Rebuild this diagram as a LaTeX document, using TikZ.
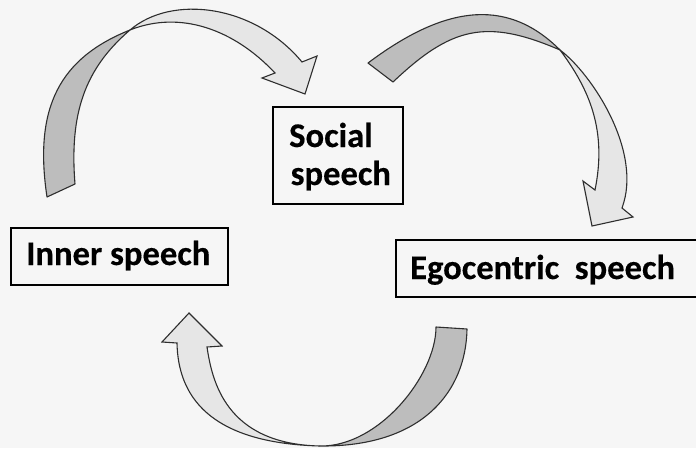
\documentclass[tikz,border=0pt]{standalone}
\usepackage{fontspec}
\setmainfont{Carlito}[BoldFeatures={FakeBold=0.35}]
\definecolor{paper}{HTML}{F6F6F6}
\definecolor{arrowdark}{HTML}{BDBDBD}
\definecolor{arrowlight}{HTML}{E6E6E6}
\definecolor{edge}{HTML}{2E2E2E}
\begin{document}
\begin{tikzpicture}[x=1pt,y=-1pt,
  boxtext/.style={font=\bfseries\fontsize{34.6}{38}\selectfont, text=black, inner sep=0pt, anchor=base west},
  frame/.style={draw=black, line width=1.3pt, inner sep=0pt},
  back/.style={fill=arrowdark, draw=edge, line width=1.1pt, line join=round},
  front/.style={fill=arrowlight, draw=edge, line width=1.1pt, line join=miter}]

\useasboundingbox (0,0) rectangle (696,448);
\fill[paper] (0,0) rectangle (696,448);
\clip (0,0) rectangle (696,448);

% ---- the three stages: frames, then their labels set on baselines ----
\node[frame, minimum width=130pt, minimum height=97pt] (social) at (338,155.5) {};
\node[boxtext] (socialA) at (289,147) {Social};
\node[boxtext] (socialB) at (290.5,185) {speech};

\node[frame, minimum width=217pt, minimum height=57pt] (inner) at (119.5,256.5) {};
\node[boxtext] (innerlabel) at (26,265) {Inner speech};

\node[frame, minimum width=310pt, minimum height=57pt] (ego) at (551,268.5) {};
\node[boxtext] (egolabel) at (410,279) {Egocentric\ \ speech};

% ---- arrow from inner speech up to social speech (twists at t1) ----
\coordinate (t1) at (130,30);
\path[back] (47,197) .. controls (33.5,107) and (60,58) .. (t1)
  .. controls (84.4,69) and (69.4,114) .. (75,184) -- cycle;
\path[front] (t1) .. controls (171.8,-5.75) and (254,4.25) .. (302,62)
  -- (317,56) -- (305,94) -- (262,78) -- (275,73)
  .. controls (234,29.2) and (180,10) .. (t1) -- cycle;

% ---- arrow from social speech down to egocentric speech (twists at t2) ----
\coordinate (t2) at (560,50);
\path[back] (368,63) .. controls (440,9) and (504,-6) .. (t2)
  .. controls (486,18) and (451,27) .. (393,82) -- cycle;
\path[front] (t2) .. controls (592,74) and (643,151.6) .. (622,208)
  -- (633,217) -- (592,226) -- (583,181) -- (595,190)
  .. controls (607,131) and (590,90) .. (t2) -- cycle;

% ---- arrow from egocentric speech round to inner speech (twists at t3) ----
\coordinate (t3) at (320,446);
\path[back] (436,327) -- (467,329)
  .. controls (466,390) and (424,447) .. (t3)
  .. controls (379,447) and (436,375) .. (436,327) -- cycle;
\path[front] (177,343) -- (162,342) -- (189,313) -- (222,346) -- (207,347)
  .. controls (212,380) and (225,444) .. (t3)
  .. controls (208,443) and (178,395) .. (177,343) -- cycle;
\end{tikzpicture}
\end{document}
